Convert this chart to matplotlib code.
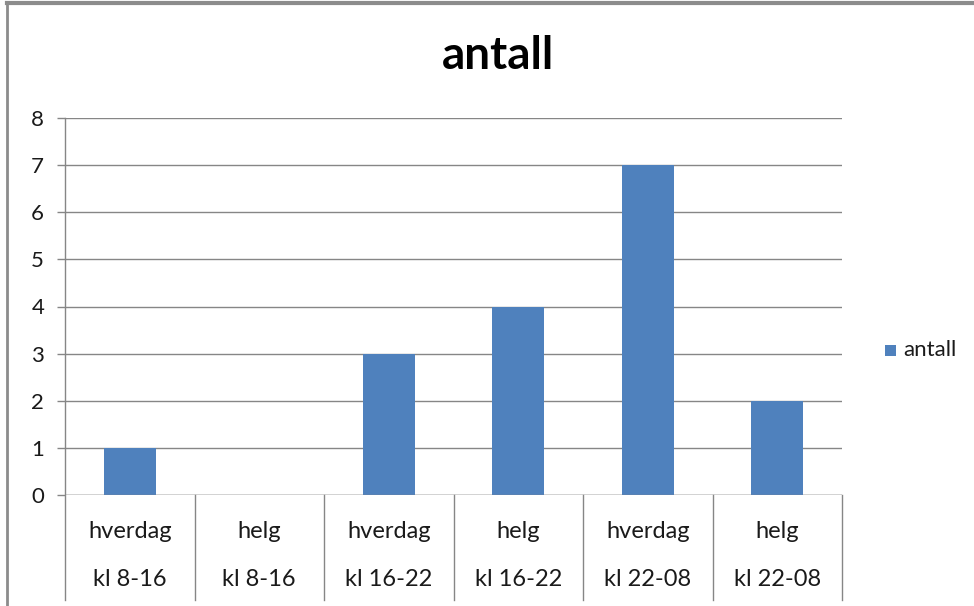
import matplotlib
matplotlib.use("Agg")
import matplotlib.pyplot as plt
from matplotlib.lines import Line2D
from matplotlib.patches import Rectangle
import matplotlib.transforms as mtransforms

plt.rcParams['font.family'] = ['Lato', 'DejaVu Sans']

# data
day_type = ["hverdag", "helg", "hverdag", "helg", "hverdag", "helg"]
time_span = ["kl 8-16", "kl 8-16", "kl 16-22", "kl 16-22", "kl 22-08", "kl 22-08"]
antall = [1, 0, 3, 4, 7, 2]
y_ticks = [0, 1, 2, 3, 4, 5, 6, 7, 8]
series_name = "antall"

W, H = 974, 606
fig = plt.figure(figsize=(W / 100, H / 100), dpi=100)
fig.patch.set_facecolor("white")

bar_color = "#4F81BD"
grid_color = "#868686"
text_color = "#1a1a1a"

ax = fig.add_axes([65 / W, (H - 495) / H, (842 - 65) / W, (495 - 118) / H])
x = list(range(len(antall)))
ax.bar(x, antall, width=0.4, color=bar_color, zorder=3)

ax.set_xlim(-0.5, len(antall) - 0.5)
ax.set_ylim(0, 8)
ax.set_yticks(y_ticks)
ax.set_yticklabels([str(v) for v in y_ticks], fontsize=16, color=text_color)
ax.tick_params(axis="y", length=6, width=1, color=grid_color, pad=9)
ax.set_xticks([])
ax.grid(axis="y", color=grid_color, linewidth=1, zorder=0)
for s in ["top", "right", "bottom", "left"]:
    ax.spines[s].set_visible(False)
ax.axhline(0, color=grid_color, linewidth=1, zorder=4)

# category separators running down through the label area
trans = mtransforms.blended_transform_factory(ax.transData, ax.transAxes)
bottom_ax = -(600 - 495) / (495 - 118)
for b in [i - 0.5 for i in range(len(antall) + 1)]:
    top = 1.0 if b == -0.5 else 0.0
    ax.add_line(Line2D([b, b], [bottom_ax, top], transform=trans,
                       color=grid_color, linewidth=1, clip_on=False, zorder=5))

# two-level category labels
y1 = -(531 - 495) / (495 - 118)
y2 = -(580 - 495) / (495 - 118)
for i in x:
    ax.text(i, y1, day_type[i], transform=trans, ha="center", va="center",
            fontsize=17, color=text_color, clip_on=False)
    ax.text(i, y2, time_span[i], transform=trans, ha="center", va="center",
            fontsize=17, color=text_color, clip_on=False)

# title
fig.text(498 / W, 1 - 56 / H, "antall", ha="center", va="center",
         fontsize=33, fontweight="bold", color="black")

# legend
fig.add_artist(Rectangle((885 / W, 1 - 356 / H), 11 / W, 11 / H,
                         facecolor=bar_color, edgecolor="none",
                         transform=fig.transFigure))
fig.text(903 / W, 1 - 350 / H, series_name, ha="left", va="center",
         fontsize=16, color=text_color)

# chart frame
fig.add_artist(Line2D([7 / W, 7 / W], [0, 1 - 3 / H], transform=fig.transFigure,
                      color="#8c8c8c", linewidth=2))
fig.add_artist(Line2D([7 / W, 1], [1 - 3 / H, 1 - 3 / H], transform=fig.transFigure,
                      color="#8c8c8c", linewidth=3))

fig.savefig("out.png", dpi=100)
